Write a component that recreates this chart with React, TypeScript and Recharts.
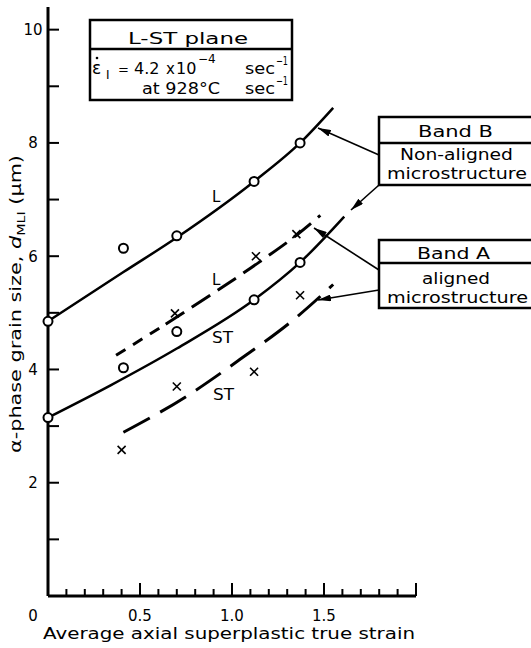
import React from "react";
import { ComposedChart, Line, XAxis, YAxis } from "recharts";

const FONT = "'DejaVu Sans', sans-serif";

// measured grain sizes (circles = Band B, crosses = Band A)
const circlesL = [
  { x: 0, y: 4.85 },
  { x: 0.41, y: 6.14 },
  { x: 0.7, y: 6.36 },
  { x: 1.12, y: 7.32 },
  { x: 1.37, y: 8.0 },
];
const circlesST = [
  { x: 0, y: 3.15 },
  { x: 0.41, y: 4.03 },
  { x: 0.7, y: 4.67 },
  { x: 1.12, y: 5.23 },
  { x: 1.37, y: 5.89 },
];
const crossesL = [
  { x: 0.69, y: 4.99 },
  { x: 1.13, y: 6.0 },
  { x: 1.35, y: 6.39 },
];
const crossesST = [
  { x: 0.4, y: 2.58 },
  { x: 0.7, y: 3.7 },
  { x: 1.12, y: 3.96 },
  { x: 1.37, y: 5.31 },
];

// hand-drawn trend curves
const curveBandBL = [
  { x: 0, y: 4.85 },
  { x: 0.41, y: 5.72 },
  { x: 0.7, y: 6.33 },
  { x: 1.12, y: 7.32 },
  { x: 1.37, y: 8.0 },
  { x: 1.55, y: 8.62 },
];
const curveBandBST = [
  { x: 0, y: 3.15 },
  { x: 0.34, y: 3.72 },
  { x: 0.7, y: 4.37 },
  { x: 1.12, y: 5.23 },
  { x: 1.37, y: 5.89 },
  { x: 1.61, y: 6.7 },
];
const curveBandALShort = [
  { x: 0.37, y: 4.25 },
  { x: 0.64, y: 4.8 },
];
const curveBandALLong = [
  { x: 0.64, y: 4.8 },
  { x: 0.9, y: 5.35 },
  { x: 1.15, y: 5.9 },
  { x: 1.35, y: 6.37 },
  { x: 1.48, y: 6.72 },
];
const curveBandAST = [
  { x: 0.41, y: 2.89 },
  { x: 0.75, y: 3.52 },
  { x: 1.04, y: 4.17 },
  { x: 1.35, y: 4.92 },
  { x: 1.55, y: 5.5 },
];

const xTicks = [0.1, 0.2, 0.3, 0.4, 0.5, 0.6, 0.7, 0.8, 0.9, 1.0, 1.1, 1.2, 1.3, 1.4, 1.5, 1.6, 1.7, 1.8, 1.9, 2.0];
const xMajor = [0.5, 1.0, 1.5, 2.0];
const xLabelTicks = [0, 0.5, 1.0, 1.5];
const xLabels = ["0", "0.5", "1.0", "1.5"];
const yTicks = [1, 2, 3, 4, 5, 6, 7, 8, 9, 10];
const yLabelTicks = [2, 4, 6, 8, 10];

// plot box (must agree with the chart margins below)
const W = 531;
const H = 648;
const M = { top: 7, right: 115, bottom: 51, left: 47 };
const AXIS = 1;
const X_DOMAIN = [0, 2];
const Y_DOMAIN = [0, 10.4];
const plotL = M.left + AXIS;
const plotR = W - M.right;
const plotT = M.top;
const plotB = H - M.bottom - AXIS;
const px = (v: number) => plotL + ((v - X_DOMAIN[0]) / (X_DOMAIN[1] - X_DOMAIN[0])) * (plotR - plotL);
const py = (v: number) => plotB - ((v - Y_DOMAIN[0]) / (Y_DOMAIN[1] - Y_DOMAIN[0])) * (plotB - plotT);

const renderCircle = (p: any) => {
  if (p.cx == null || p.cy == null) return <g key={p.index} />;
  return <circle key={p.index} cx={p.cx} cy={p.cy} r={4.5} fill="#fff" stroke="#000" strokeWidth={2} />;
};

const renderCross = (p: any) => {
  if (p.cx == null || p.cy == null) return <g key={p.index} />;
  const s = 4;
  return (
    <g key={p.index} stroke="#000" strokeWidth={1.6}>
      <line x1={p.cx - s} y1={p.cy - s} x2={p.cx + s} y2={p.cy + s} />
      <line x1={p.cx - s} y1={p.cy + s} x2={p.cx + s} y2={p.cy - s} />
    </g>
  );
};

const renderXLabel = (p: any) => {
  const i = p.index;
  const v = xLabelTicks[i];
  return (
    <text x={v === 0 ? 33 : p.x} y={621} textAnchor="middle" fontSize={15} fontFamily={FONT} fill="#000">
      {xLabels[i]}
    </text>
  );
};

const renderYLabel = (p: any) => (
  <text x={33} y={p.y} dy="0.36em" textAnchor="middle" fontSize={15} fontFamily={FONT} fill="#000">
    {p.payload.value}
  </text>
);

function Notes() {
  const t = { fontFamily: FONT, fill: "#000" };
  return (
    <svg width={W} height={H} style={{ position: "absolute", left: 0, top: 0, pointerEvents: "none" }}>
      <defs>
        <marker id="arr" markerUnits="userSpaceOnUse" markerWidth={13} markerHeight={7} refX={13} refY={3.5} orient="auto">
          <path d="M0,0 L13,3.5 L0,7 z" fill="#000" />
        </marker>
      </defs>

      {/* inward tick marks */}
      <g stroke="#000" strokeWidth={2}>
        {xTicks.map((v) => (
          <line key={`xt${v}`} x1={px(v)} y1={plotB} x2={px(v)} y2={plotB - (xMajor.includes(v) ? 13 : 7)} />
        ))}
        {yTicks.map((v) => (
          <line key={`yt${v}`} x1={plotL} y1={py(v)} x2={plotL + 11} y2={py(v)} />
        ))}
      </g>

      {/* L-ST plane box */}
      <g fill="none" stroke="#000" strokeWidth={2.5}>
        <rect x={90} y={20} width={202} height={80} />
        <line x1={90} y1={49} x2={292} y2={49} />
      </g>
      <text x={128} y={44} fontSize={16} textLength={120} lengthAdjust="spacingAndGlyphs" {...t}>L-ST plane</text>
      <text x={92} y={74} fontSize={17} {...t}>ε</text>
      <circle cx={97} cy={58} r={1.3} fill="#000" />
      <text x={106} y={79} fontSize={12} {...t}>I</text>
      <text x={118} y={74} fontSize={13} {...t}>=</text>
      <text x={134} y={74} fontSize={16} {...t}>4.2</text>
      <text x={166} y={74} fontSize={15} {...t}>x</text>
      <text x={176} y={74} fontSize={16} {...t}>10</text>
      <text x={198} y={63} fontSize={12} {...t}>−4</text>
      <text x={245} y={74} fontSize={16} textLength={30} lengthAdjust="spacingAndGlyphs" {...t}>sec</text>
      <text x={276} y={65} fontSize={12} textLength={12} lengthAdjust="spacingAndGlyphs" {...t}>−1</text>
      <text x={142} y={94} fontSize={16} textLength={78} lengthAdjust="spacingAndGlyphs" {...t}>at 928°C</text>
      <text x={245} y={94} fontSize={16} textLength={30} lengthAdjust="spacingAndGlyphs" {...t}>sec</text>
      <text x={276} y={85} fontSize={12} textLength={12} lengthAdjust="spacingAndGlyphs" {...t}>−1</text>

      {/* Band B box */}
      <g fill="none" stroke="#000" strokeWidth={2.5}>
        <polyline points="531,117 379,117 379,185 531,185" />
        <line x1={379} y1={143} x2={531} y2={143} />
      </g>
      <text x={418} y={137} fontSize={16} textLength={75} lengthAdjust="spacingAndGlyphs" {...t}>Band  B</text>
      <text x={400} y={160} fontSize={15} textLength={113} lengthAdjust="spacingAndGlyphs" {...t}>Non-aligned</text>
      <text x={387} y={179} fontSize={15} textLength={140} lengthAdjust="spacingAndGlyphs" {...t}>microstructure</text>

      {/* Band A box */}
      <g fill="none" stroke="#000" strokeWidth={2.5}>
        <polyline points="531,240 379,240 379,308 531,308" />
        <line x1={379} y1={263} x2={531} y2={263} />
      </g>
      <text x={417} y={259} fontSize={16} textLength={73} lengthAdjust="spacingAndGlyphs" {...t}>Band  A</text>
      <text x={422} y={284} fontSize={15} textLength={68} lengthAdjust="spacingAndGlyphs" {...t}>aligned</text>
      <text x={387} y={303} fontSize={15} textLength={141} lengthAdjust="spacingAndGlyphs" {...t}>microstructure</text>

      {/* pointer arrows */}
      <g stroke="#000" strokeWidth={1.6} fill="none">
        <line x1={379} y1={155} x2={318} y2={128} markerEnd="url(#arr)" />
        <line x1={379} y1={185} x2={351} y2={210} markerEnd="url(#arr)" />
        <line x1={379} y1={270} x2={314} y2={228} markerEnd="url(#arr)" />
        <line x1={379} y1={290} x2={318} y2={300} markerEnd="url(#arr)" />
      </g>

      {/* curve labels */}
      <text x={212} y={202} fontSize={15} {...t}>L</text>
      <text x={212} y={285} fontSize={15} {...t}>L</text>
      <text x={212} y={343} fontSize={15} textLength={21} lengthAdjust="spacingAndGlyphs" {...t}>ST</text>
      <text x={213} y={400} fontSize={15} textLength={21} lengthAdjust="spacingAndGlyphs" {...t}>ST</text>

      {/* axis titles */}
      <text x={43} y={639} fontSize={15} textLength={372} lengthAdjust="spacingAndGlyphs" {...t}>
        Average axial superplastic true strain
      </text>
      <text transform="translate(21,453) rotate(-90)" fontSize={16} textLength={298} lengthAdjust="spacingAndGlyphs" {...t}>
        α-phase grain size, <tspan fontStyle="italic">d</tspan>
        <tspan fontSize={11} dy={4}>MLI</tspan>
        <tspan dy={-4}> (μm)</tspan>
      </text>
    </svg>
  );
}

const plain = { dot: false, activeDot: false, isAnimationActive: false } as const;

export default function App() {
  return (
    <div style={{ position: "absolute", left: 0, top: 0, width: W, height: H, background: "#fff" }}>
      <ComposedChart width={W} height={H} margin={M}>
        <XAxis
          type="number"
          dataKey="x"
          domain={X_DOMAIN}
          ticks={xLabelTicks}
          interval={0}
          height={AXIS}
          axisLine={{ stroke: "#000", strokeWidth: 3 }}
          tickLine={false}
          tickSize={0}
          tickMargin={0}
          tick={renderXLabel}
        />
        <YAxis
          type="number"
          dataKey="y"
          domain={Y_DOMAIN}
          ticks={yLabelTicks}
          interval={0}
          width={AXIS}
          axisLine={{ stroke: "#000", strokeWidth: 3 }}
          tickLine={false}
          tickSize={0}
          tickMargin={0}
          tick={renderYLabel}
        />

        {/* trend curves */}
        <Line data={curveBandBL} dataKey="y" type="monotone" stroke="#000" strokeWidth={2.5} {...plain} />
        <Line data={curveBandBST} dataKey="y" type="monotone" stroke="#000" strokeWidth={2.5} {...plain} />
        <Line data={curveBandALShort} dataKey="y" type="linear" stroke="#000" strokeWidth={3} strokeDasharray="11 9" {...plain} />
        <Line data={curveBandALLong} dataKey="y" type="monotone" stroke="#000" strokeWidth={3} strokeDasharray="22 9" {...plain} />
        <Line data={curveBandAST} dataKey="y" type="monotone" stroke="#000" strokeWidth={3} strokeDasharray="30 12" {...plain} />

        {/* measured points */}
        <Line data={circlesL} dataKey="y" stroke="none" dot={renderCircle} activeDot={false} isAnimationActive={false} />
        <Line data={circlesST} dataKey="y" stroke="none" dot={renderCircle} activeDot={false} isAnimationActive={false} />
        <Line data={crossesL} dataKey="y" stroke="none" dot={renderCross} activeDot={false} isAnimationActive={false} />
        <Line data={crossesST} dataKey="y" stroke="none" dot={renderCross} activeDot={false} isAnimationActive={false} />
      </ComposedChart>
      <Notes />
    </div>
  );
}
